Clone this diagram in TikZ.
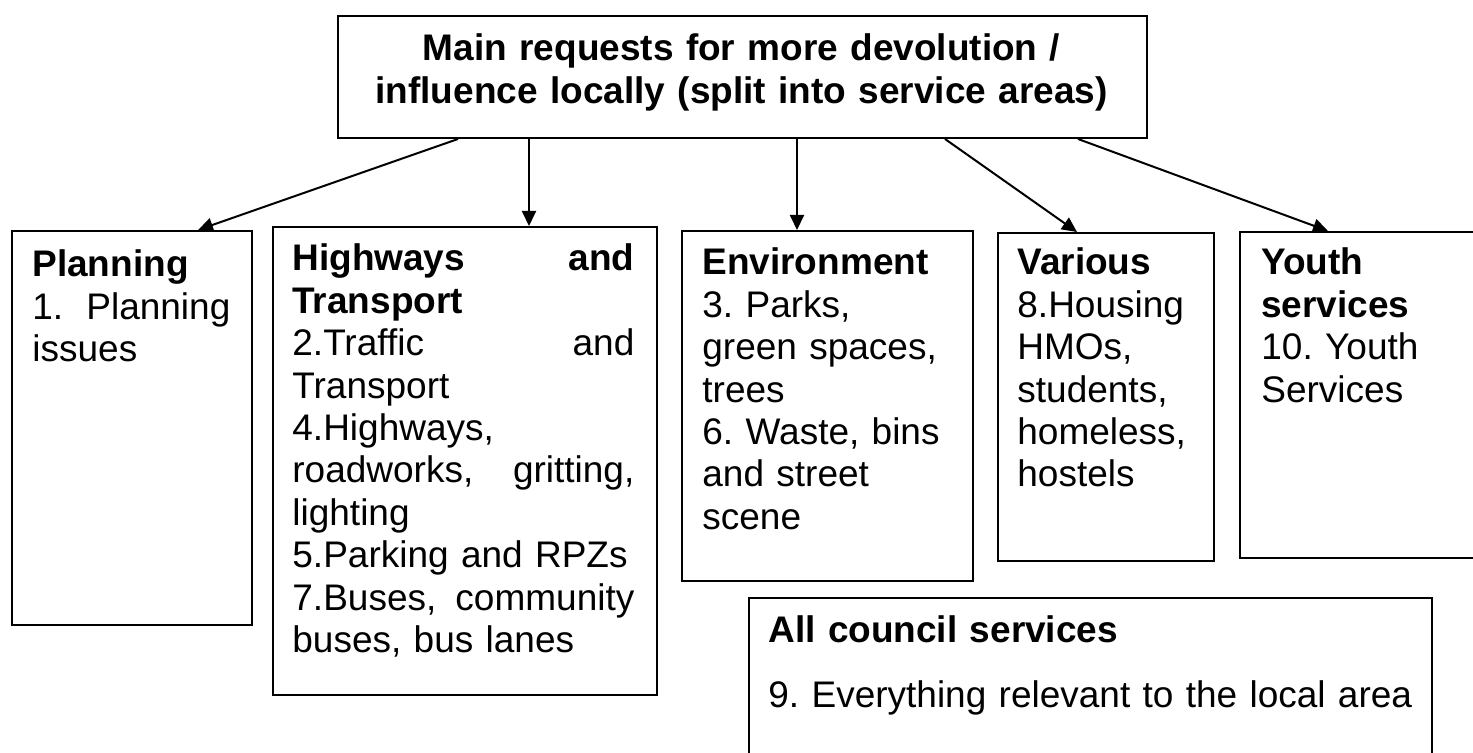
\documentclass[tikz,border=0pt]{standalone}
\usepackage{fontspec}
\setmainfont{Liberation Sans}
\usetikzlibrary{arrows.meta,calc}
\frenchspacing
\tikzset{
	>={Triangle[length=7.5pt,width=7pt]},
	box/.style={draw, line width=1pt, anchor=north west, inner sep=0pt},
	boxtext/.style={anchor=base west, inner sep=0pt, align=left, font=\fontsize{18.5}{21.2}\selectfont},
	link/.style={->, line width=1pt},
}

\begin{document}
\begin{tikzpicture}[x=0.5pt, y=-0.5pt]
	\useasboundingbox (0,0) rectangle (1473,753);
	\clip (0,0) rectangle (1473,753);
	% boxes
	\node[box, minimum width=404.5pt, minimum height=61pt] (main) at (337,15) {};
	\node[box, minimum width=120pt, minimum height=197pt] (planning) at (11,230) {};
	\node[box, minimum width=192pt, minimum height=234pt] (highways) at (272,226) {};
	\node[box, minimum width=145.5pt, minimum height=175pt] (environment) at (681,230) {};
	\node[box, minimum width=108pt, minimum height=164pt] (various) at (997,232) {};
	\node[box, minimum width=128pt, minimum height=163pt] (youth) at (1239,231) {};
	\node[box, minimum width=341.5pt, minimum height=92pt] (allcouncil) at (748,597) {};
	% texts
	\node[boxtext, anchor=base, align=center, text width=390pt] (maintext) at (741.5,61)
		{\textbf{Main requests for more devolution /}\\
		 \textbf{influence locally (split into service areas)}};
	\node[boxtext, text width=99pt] (planningtext) at (32,277)
		{\textbf{Planning}\\
		 1.\hfill Planning\\
		 issues};
	\node[boxtext, text width=171pt] (highwaystext) at (292,271)
		{\textbf{Highways\hfill and}\\
		 \textbf{Transport}\\
		 2.Traffic\hfill and\\
		 Transport\\
		 4.Highways,\\
		 roadworks,\hfill gritting,\\
		 lighting\\
		 5.Parking and RPZs\\
		 7.Buses,\hfill community\\
		 buses, bus lanes};
	\node[boxtext, text width=125pt] (environmenttext) at (702,275)
		{\textbf{Environment}\\
		 3. Parks,\\
		 green spaces,\\
		 trees\\
		 6. Waste, bins\\
		 and street\\
		 scene};
	\node[boxtext, text width=90pt] (varioustext) at (1017,275)
		{\textbf{Various}\\
		 8.Housing\\
		 HMOs,\\
		 students,\\
		 homeless,\\
		 hostels};
	\node[boxtext, text width=95pt] (youthtext) at (1261,275)
		{\textbf{Youth}\\
		 \textbf{services}\\
		 10. Youth\\
		 Services};
	\node[boxtext, text width=330pt] (allcounciltext) at (768,642)
		{\textbf{All council services}\\[11.5pt]
		 9. Everything relevant to the local area};
	% arrows
	\draw[link] ($(main.south west)+(121,0)$) -- ($(planning.north west)+(187,0)$);
	\draw[link] ($(main.south west)+(192,0)$) -- ($(highways.north west)+(257,0)$);
	\draw[link] ($(main.south west)+(460,0)$) -- ($(environment.north west)+(116,0)$);
	\draw[link] ($(main.south west)+(608,0)$) -- ($(various.north west)+(80,0)$);
	\draw[link] ($(main.south west)+(741,0)$) -- ($(youth.north west)+(89,0)$);
\end{tikzpicture}
\end{document}
